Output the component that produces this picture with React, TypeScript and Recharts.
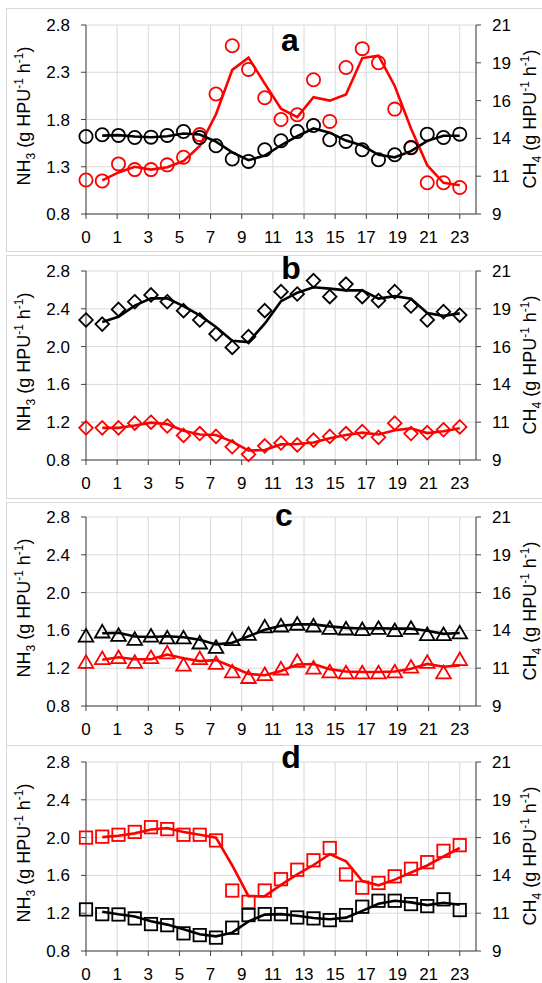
import { CartesianGrid, ComposedChart, Line, XAxis, YAxis } from "recharts";

const FONT = '"Liberation Sans", Arial, sans-serif';
const RED = "#ff0000";
const BLACK = "#000000";

const HOURS = [0, 1, 2, 3, 4, 5, 6, 7, 8, 9, 10, 11, 12, 13, 14, 15, 16, 17, 18, 19, 20, 21, 22, 23];
const X_TICK_LABELS = ["0", "1", "3", "5", "7", "9", "11", "13", "15", "17", "19", "21", "23"];
const NH3_TICKS_A = [0.8, 1.3, 1.8, 2.3, 2.8];
const NH3_TICKS = [0.8, 1.2, 1.6, 2.0, 2.4, 2.8];
const CH4_TICKS = [9, 11.4, 13.8, 16.2, 18.6, 21];

// NH3 (left axis, red) and CH4 (right axis, black), read hour by hour
const NH3_A = [1.16, 1.15, 1.33, 1.27, 1.27, 1.32, 1.4, 1.64, 2.07, 2.58, 2.33, 2.03, 1.8, 1.85, 2.22, 1.78, 2.35, 2.55, 2.4, 1.91, 1.5, 1.13, 1.13, 1.08];
const CH4_A = [13.92, 14.03, 13.99, 13.86, 13.88, 13.99, 14.24, 13.86, 13.33, 12.49, 12.34, 13.08, 13.65, 14.24, 14.62, 13.71, 13.61, 13.08, 12.44, 12.76, 13.22, 14.07, 13.86, 14.07];

const NH3_B = [1.14, 1.14, 1.14, 1.19, 1.2, 1.16, 1.06, 1.08, 1.05, 0.94, 0.86, 0.95, 0.98, 0.96, 1.01, 1.05, 1.08, 1.1, 1.04, 1.19, 1.08, 1.09, 1.12, 1.15];
const CH4_B = [17.89, 17.63, 18.56, 19.05, 19.48, 19.05, 18.48, 17.89, 17.0, 16.15, 16.83, 18.48, 19.69, 19.54, 20.39, 19.37, 20.17, 19.37, 19.12, 19.69, 18.78, 17.89, 18.42, 18.2];

const NH3_C = [1.27, 1.31, 1.32, 1.27, 1.32, 1.37, 1.24, 1.31, 1.26, 1.17, 1.11, 1.14, 1.2, 1.28, 1.21, 1.17, 1.16, 1.16, 1.16, 1.17, 1.22, 1.27, 1.16, 1.3];
const CH4_C = [13.49, 13.75, 13.54, 13.28, 13.49, 13.37, 13.37, 13.05, 12.77, 13.26, 13.6, 14.07, 14.13, 14.24, 14.13, 13.98, 13.94, 13.9, 13.98, 13.84, 13.98, 13.58, 13.58, 13.69];

const NH3_D = [2.0, 2.01, 2.03, 2.06, 2.11, 2.09, 2.03, 2.03, 1.97, 1.44, 1.32, 1.44, 1.56, 1.66, 1.76, 1.89, 1.61, 1.47, 1.52, 1.59, 1.67, 1.74, 1.86, 1.92];
const CH4_D = [11.64, 11.34, 11.32, 11.07, 10.71, 10.64, 10.12, 10.01, 9.85, 10.48, 11.28, 11.34, 11.34, 11.13, 11.07, 10.96, 11.28, 11.81, 12.19, 12.19, 11.98, 11.85, 12.28, 11.6];

type Shape = "circle" | "diamond" | "triangle" | "square";

type PanelDef = {
  letter: string;
  shape: Shape;
  nh3: number[];
  ch4: number[];
  nh3Ticks: number[];
  top: number;
  plotTop: number;
  letterX: number;
  letterY: number;
};

const PANELS: PanelDef[] = [
  { letter: "a", shape: "circle", nh3: NH3_A, ch4: CH4_A, nh3Ticks: NH3_TICKS_A, top: 8, plotTop: 17, letterX: 284, letterY: 43 },
  { letter: "b", shape: "diamond", nh3: NH3_B, ch4: CH4_B, nh3Ticks: NH3_TICKS, top: 255, plotTop: 16, letterX: 285, letterY: 24 },
  { letter: "c", shape: "triangle", nh3: NH3_C, ch4: CH4_C, nh3Ticks: NH3_TICKS, top: 502, plotTop: 15, letterX: 278, letterY: 24 },
  { letter: "d", shape: "square", nh3: NH3_D, ch4: CH4_D, nh3Ticks: NH3_TICKS, top: 745, plotTop: 17, letterX: 285, letterY: 23 },
];

const CHART_W = 540;
const CHART_H = 244;
const PLOT_H = 189;
const X_AXIS_H = 30;
const OVERLAY_PAD = 12;

// Excel "2 per. moving average" trendline of the plotted points
function movingAverage(values: number[]): (number | null)[] {
  return values.map((v, i) => (i === 0 ? null : (v + values[i - 1]) / 2));
}

const xTicks = X_TICK_LABELS.map((_, i) => (i * 23) / (X_TICK_LABELS.length - 1));

function makeDot(shape: Shape, color: string) {
  return (props: any) => {
    const { cx, cy, index } = props;
    const key = `${shape}-${color}-${index}`;
    if (cx == null || cy == null) return <g key={key} />;
    const common = { fill: "none", stroke: color, strokeWidth: 1.8 };
    if (shape === "circle") return <circle key={key} cx={cx} cy={cy} r={6.6} {...common} />;
    if (shape === "diamond")
      return (
        <polygon
          key={key}
          points={`${cx},${cy - 6.8} ${cx + 6.8},${cy} ${cx},${cy + 6.8} ${cx - 6.8},${cy}`}
          {...common}
        />
      );
    if (shape === "triangle")
      return (
        <polygon
          key={key}
          points={`${cx},${cy - 6.3} ${cx + 7.3},${cy + 6.3} ${cx - 7.3},${cy + 6.3}`}
          {...common}
        />
      );
    return <rect key={key} x={cx - 6.2} y={cy - 6.2} width={12.4} height={12.4} {...common} />;
  };
}

const AxisTitle = ({ x, y, main, sub }: { x: number; y: number; main: string; sub: string }) => (
  <text x={x} y={y} textAnchor="middle" fontSize={18} transform={`rotate(-90 ${x} ${y})`}>
    {main}
    <tspan fontSize={12} dy={5}>{sub}</tspan>
    <tspan dy={-5}> (g HPU</tspan>
    <tspan fontSize={12} dy={-7}>-1</tspan>
    <tspan dy={7}> h</tspan>
    <tspan fontSize={12} dy={-7}>-1</tspan>
    <tspan dy={7}>)</tspan>
  </text>
);

const Panel = ({ def }: { def: PanelDef }) => {
  const nh3Avg = movingAverage(def.nh3);
  const ch4Avg = movingAverage(def.ch4);
  const data = HOURS.map((hour, i) => ({
    hour,
    nh3: def.nh3[i],
    ch4: def.ch4[i],
    nh3Avg: nh3Avg[i],
    ch4Avg: ch4Avg[i],
  }));
  const bottom = CHART_H - def.plotTop - PLOT_H - X_AXIS_H;
  const tick = { fill: "#000", fontSize: 17, fontFamily: FONT };
  const axisStroke = "#404040";
  const p = OVERLAY_PAD;

  return (
    <div
      style={{
        position: "absolute",
        left: 6,
        top: def.top,
        width: CHART_W,
        height: CHART_H,
        boxShadow: "inset 0 0 0 1px #d9d9d9",
      }}
    >
      <ComposedChart
        width={CHART_W}
        height={CHART_H}
        data={data}
        margin={{ top: def.plotTop, right: 0, bottom, left: 0 }}
      >
        <CartesianGrid yAxisId="left" stroke="#d9d9d9" strokeWidth={1} />
        <XAxis
          dataKey="hour"
          type="number"
          domain={[0, 24]}
          ticks={xTicks}
          interval={0}
          tickFormatter={(_v: number, i: number) => X_TICK_LABELS[i]}
          height={X_AXIS_H}
          tick={tick}
          tickSize={5}
          tickMargin={12}
          stroke={axisStroke}
        />
        <YAxis
          yAxisId="left"
          domain={[0.8, 2.8]}
          ticks={def.nh3Ticks}
          interval={0}
          tickFormatter={(v: number) => v.toFixed(1)}
          width={80}
          tick={tick}
          tickSize={5}
          tickMargin={11}
          stroke={axisStroke}
        />
        <YAxis
          yAxisId="right"
          orientation="right"
          domain={[9, 21]}
          ticks={CH4_TICKS}
          interval={0}
          tickFormatter={(v: number) => String(Math.round(v))}
          width={70}
          tick={tick}
          tickSize={5}
          tickMargin={11}
          stroke={axisStroke}
        />
        <Line
          yAxisId="left"
          dataKey="nh3"
          stroke="none"
          dot={makeDot(def.shape, RED)}
          activeDot={false}
          isAnimationActive={false}
        />
        <Line
          yAxisId="left"
          dataKey="nh3Avg"
          type="linear"
          stroke={RED}
          strokeWidth={2.6}
          dot={false}
          activeDot={false}
          isAnimationActive={false}
        />
        <Line
          yAxisId="right"
          dataKey="ch4"
          stroke="none"
          dot={makeDot(def.shape, BLACK)}
          activeDot={false}
          isAnimationActive={false}
        />
        <Line
          yAxisId="right"
          dataKey="ch4Avg"
          type="linear"
          stroke={BLACK}
          strokeWidth={2.6}
          dot={false}
          activeDot={false}
          isAnimationActive={false}
        />
      </ComposedChart>
      <svg
        width={CHART_W}
        height={CHART_H + p}
        style={{ position: "absolute", left: 0, top: -p, pointerEvents: "none", overflow: "visible" }}
        fontFamily={FONT}
      >
        <text x={def.letterX} y={def.letterY + p} textAnchor="middle" fontSize={32} fontWeight="bold">
          {def.letter}
        </text>
        <AxisTitle x={23.5} y={def.plotTop + 91 + p} main="NH" sub="3" />
        <AxisTitle x={529.5} y={def.plotTop + 94 + p} main="CH" sub="4" />
      </svg>
    </div>
  );
}

export default function App() {
  return (
    <div
      style={{
        position: "absolute",
        left: 0,
        top: 0,
        width: 542,
        height: 983,
        overflow: "hidden",
        background: "#fff",
        fontFamily: FONT,
      }}
    >
      {PANELS.map((p) => (
        <Panel key={p.letter} def={p} />
      ))}
    </div>
  );
}
